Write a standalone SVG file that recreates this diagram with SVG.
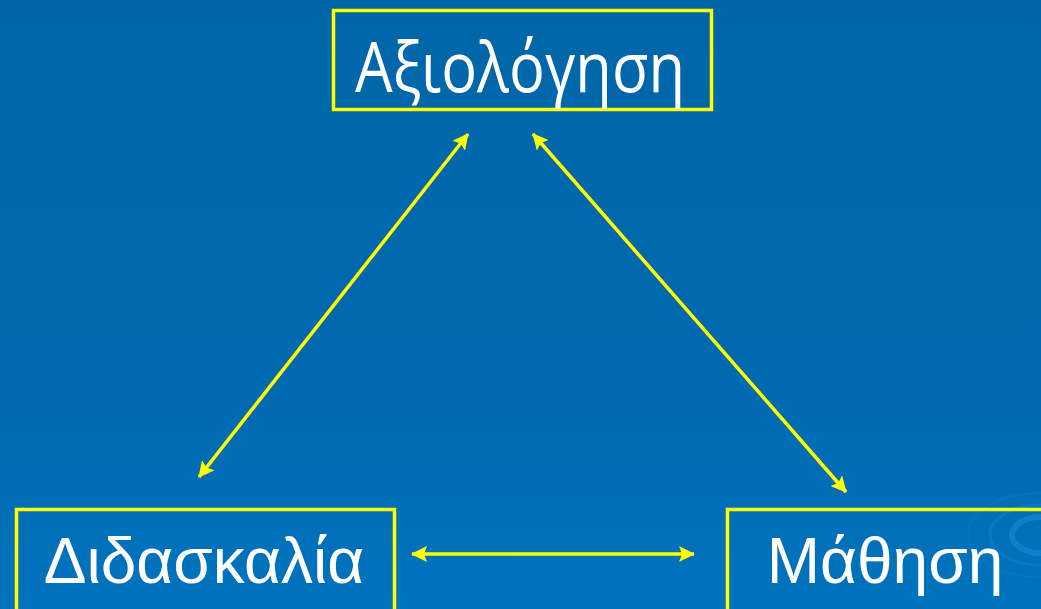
<svg xmlns="http://www.w3.org/2000/svg" width="1041" height="609" viewBox="0 0 1041 609">
<defs>
<linearGradient id="bg" x1="0" y1="0" x2="0" y2="1">
<stop offset="0" stop-color="#0066A9"/>
<stop offset="0.6" stop-color="#0069AF"/>
<stop offset="1" stop-color="#0073BE"/>
</linearGradient>
<marker id="ah" viewBox="0 0 16 16" refX="15" refY="8" markerWidth="16" markerHeight="16" markerUnits="userSpaceOnUse" orient="auto-start-reverse">
<path d="M0,0 L16,8 L0,16 L3,8 Z" fill="#FFFF00"/>
</marker>
<style>
.box{fill:none;stroke:#FFFF00;stroke-width:3.5}
.lbl{fill:#FFFFFF}
.conn{stroke:#FFFF00;stroke-width:3.5;fill:none;marker-start:url(#ah);marker-end:url(#ah)}
</style>
</defs>
<rect width="1041" height="609" fill="url(#bg)"/>
<g id="ripples" fill="none" stroke="#1E88D6" opacity="0.6">
<ellipse cx="1040" cy="535" rx="28" ry="18" stroke-width="6"/>
<ellipse cx="1040" cy="535" rx="50" ry="30" stroke-width="3" opacity="0.6"/>
<ellipse cx="1040" cy="535" rx="72" ry="42" stroke-width="1.5" opacity="0.4"/>
</g>
<g id="connectors">
<line class="conn" x1="199" y1="477" x2="468" y2="134"/>
<line class="conn" x1="533" y1="134" x2="846" y2="492"/>
<line class="conn" x1="412" y1="554" x2="694" y2="554"/>
</g>
<g id="node-axiologisi">
<rect class="box" x="333.5" y="10.5" width="378" height="99"/>
<text class="lbl" x="355" y="92" textLength="330" lengthAdjust="spacingAndGlyphs" font-family="'Open Sans', 'Noto Sans', sans-serif" font-size="70">Αξιολόγηση</text>
</g>
<g id="node-didaskalia">
<rect class="box" x="16.5" y="509.5" width="378" height="110"/>
<text class="lbl" x="204" y="583" text-anchor="middle" font-family="'Liberation Sans', Arial, sans-serif" font-size="64">Διδασκαλία</text>
</g>
<g id="node-mathisi">
<rect class="box" x="727.5" y="509.5" width="330" height="110"/>
<text class="lbl" x="885" y="583" text-anchor="middle" font-family="'Liberation Sans', Arial, sans-serif" font-size="64">Μάθηση</text>
</g>
</svg>
